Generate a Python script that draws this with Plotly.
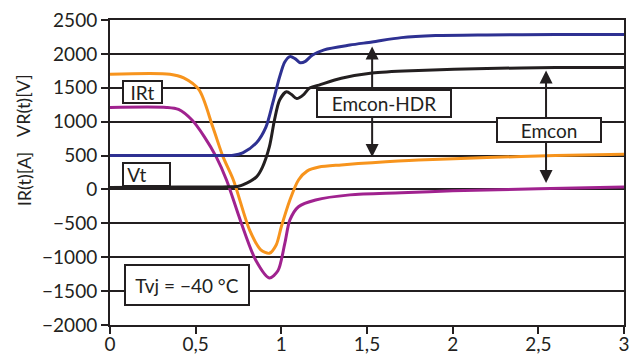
import plotly.graph_objects as go

# Time axis [µs]
blue_x = [0, 0.3, 0.6, 0.72, 0.775, 0.855, 0.91, 0.95, 0.99, 1.02, 1.05, 1.08, 1.11, 1.14, 1.18, 1.25, 1.4, 1.53, 1.7, 1.9, 2.2, 2.6, 3.0]
blue_y = [500, 500, 500, 505, 540, 690, 920, 1276, 1660, 1880, 1960, 1930, 1870, 1890, 1980, 2060, 2130, 2176, 2240, 2270, 2280, 2285, 2285]

black_x = [0, 0.4, 0.7, 0.75, 0.775, 0.855, 0.89, 0.93, 0.96, 0.99, 1.03, 1.06, 1.09, 1.13, 1.165, 1.22, 1.35, 1.53, 1.8, 2.2, 2.6, 3.0]
black_y = [30, 35, 40, 48, 66, 185, 330, 627, 1025, 1320, 1440, 1400, 1340, 1400, 1497, 1540, 1640, 1718, 1755, 1785, 1798, 1800]

orange_x = [0, 0.35, 0.43, 0.52, 0.6, 0.66, 0.72, 0.815, 0.88, 0.93, 0.97, 1.0, 1.05, 1.1, 1.15, 1.22, 1.35, 1.53, 1.8, 2.2, 2.6, 3.0]
orange_y = [1700, 1700, 1645, 1468, 920, 480, 140, -600, -890, -942, -820, -550, -155, 140, 270, 330, 362, 395, 435, 470, 500, 520]

purple_x = [0, 0.33, 0.4, 0.48, 0.55, 0.62, 0.68, 0.76, 0.85, 0.93, 0.98, 1.02, 1.05, 1.1, 1.2, 1.4, 1.7, 2.0, 2.5, 3.0]
purple_y = [1210, 1210, 1180, 1020, 780, 480, 140, -450, -1040, -1305, -1200, -800, -450, -255, -155, -80, -50, -20, 10, 35]

y_ticks = [-2000, -1500, -1000, -500, 0, 500, 1000, 1500, 2000, 2500]
x_ticks = [0, 0.5, 1, 1.5, 2, 2.5, 3]
x_tick_text = ["0", "0,5", "1", "1,5", "2", "2,5", "3"]
y_tick_text = [str(v).replace("-", "\u2212") for v in y_ticks]

FONT = "Lato"
INK = "#231f20"
fig = go.Figure()
for xs, ys, col in [(orange_x, orange_y, "#f7941d"), (purple_x, purple_y, "#a0228f"),
                    (blue_x, blue_y, "#2e3192"), (black_x, black_y, INK)]:
    fig.add_trace(go.Scatter(x=xs, y=ys, mode="lines",
                             line=dict(color=col, width=3, shape="spline", smoothing=0.8),
                             showlegend=False, hoverinfo="skip"))

ann = []
# double arrows
for xa, y0, y1 in [(1.53, 2130, 480), (2.545, 1777, 96)]:
    ann.append(dict(x=xa, y=y1, ax=xa, ay=y0, xref="x", yref="y", axref="x", ayref="y",
                    text="", showarrow=True, arrowhead=2, startarrowhead=2, arrowside="end+start",
                    arrowsize=1.3, startarrowsize=1.3, arrowwidth=2, arrowcolor=INK))

def box(x, y, text, w, h, size=19):
    return dict(x=x, y=y, xref="x", yref="y", text=text, showarrow=False,
                font=dict(family=FONT, size=size, color=INK),
                bgcolor="white", bordercolor=INK, borderwidth=2, borderpad=0,
                width=w, height=h, align="center", xanchor="center", yanchor="middle")

ann.append(box(0.19, 1445, "IRt", 37, 20))
ann.append(box(0.215, 214, "Vt&nbsp;&nbsp;&nbsp;&nbsp;", 45, 21))
ann.append(box(1.6, 1261, "Emcon-HDR", 132, 25))
ann.append(box(2.56, 870, "Emcon", 102, 22))
ann.append(box(0.45, -1416, "Tvj = \u221240 °C", 122, 38))

ann.append(dict(x=-0.168, y=0.72, xref="paper", yref="paper", text="VR(t)[V]", textangle=-90,
                showarrow=False, font=dict(family=FONT, size=18, color=INK),
                xanchor="center", yanchor="middle"))
ann.append(dict(x=-0.168, y=0.48, xref="paper", yref="paper", text="IR(t)[A]", textangle=-90,
                showarrow=False, font=dict(family=FONT, size=18, color=INK),
                xanchor="center", yanchor="middle"))

fig.update_layout(
    width=630, height=359,
    margin=dict(l=110, r=6, t=20, b=34),
    paper_bgcolor="white", plot_bgcolor="white",
    font=dict(family=FONT, size=19, color=INK),
    annotations=ann,
)
fig.update_xaxes(range=[0, 3], tickvals=x_ticks, ticktext=x_tick_text, showgrid=False,
                 zeroline=False, showline=True, linecolor=INK, linewidth=2, mirror=True,
                 ticks="outside", ticklen=7, tickwidth=2, tickcolor=INK, automargin=False,
                 ticklabelstandoff=-6,
                 tickfont=dict(family=FONT, size=19, color=INK))
fig.update_yaxes(range=[-2000, 2500], tickvals=y_ticks, ticktext=y_tick_text, showgrid=True,
                 gridcolor=INK, gridwidth=2, zeroline=False, showline=True,
                 linecolor=INK, linewidth=2, mirror=True, automargin=False,
                 ticks="outside", ticklen=7, tickwidth=2, tickcolor=INK,
                 tickfont=dict(family=FONT, size=19, color=INK))

fig.write_html("out.html")
